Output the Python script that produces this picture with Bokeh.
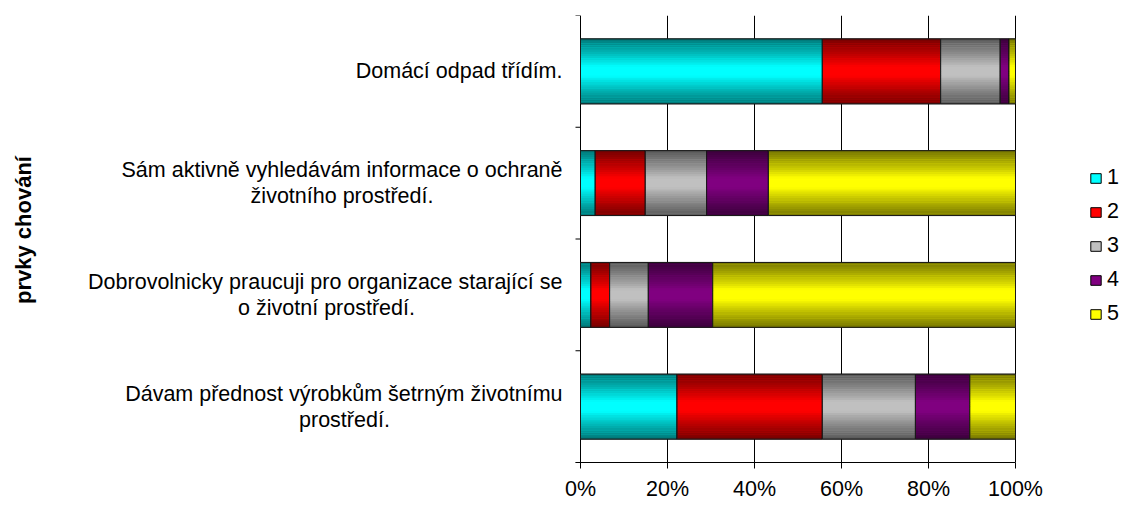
import math
from bokeh.plotting import figure
from bokeh.models import (ColumnDataSource, Range1d, FixedTicker,
                          NumeralTickFormatter, Legend, LegendItem)
from bokeh.core.properties import value
from bokeh.embed import file_html
from bokeh.resources import INLINE

# ---------------- data ----------------
categories = [
    "Domácí odpad třídím.",
    "Sám aktivně vyhledávám informace o ochraně\nživotního prostředí.",
    "Dobrovolnicky praucuji pro organizace starající se\no životní prostředí.",
    "Dávam přednost výrobkům šetrným životnímu\nprostředí.",
]
series_names = ["1", "2", "3", "4", "5"]
s1 = [55.6, 3.4, 2.4, 22.2]
s2 = [27.2, 11.5, 4.3, 33.4]
s3 = [13.7, 14.1, 8.9, 21.4]
s4 = [2.0, 14.2, 14.8, 12.5]
s5 = [1.5, 56.8, 69.6, 10.5]
colors = ["#00FFFF", "#FF0000", "#C0C0C0", "#800080", "#FFFF00"]
x_ticks = [0, 0.2, 0.4, 0.6, 0.8, 1.0]
y_title = "prvky chování"

# ---------------- layout constants ----------------
FONT = "Liberation Sans"
FS = 21.5
W = 1125
PLOT_LEFT = 580      # pixel where 0 % lies
PLOT_W = 435         # pixels from 0 % to 100 %
FRAME_H = 447
TOP = 15

series = [s1, s2, s3, s4, s5]
n = len(categories)
centers = [n - i - 0.5 for i in range(n)]
totals = [sum(s[i] for s in series) for i in range(n)]

# Arial / Liberation Sans advance widths (1/1000 em), used to centre wrapped lines
_W = {" ": 278, ".": 278, "a": 556, "b": 556, "c": 500, "d": 556, "e": 556,
      "f": 278, "g": 556, "h": 556, "i": 222, "j": 222, "k": 500, "l": 222,
      "m": 833, "n": 556, "o": 556, "p": 556, "q": 556, "r": 333, "s": 500,
      "t": 278, "u": 556, "v": 500, "w": 722, "x": 500, "y": 500, "z": 500,
      "S": 667, "D": 722}
_BASE = {"á": "a", "í": "i", "ř": "r", "ě": "e", "ž": "z", "š": "s",
         "ů": "u", "ý": "y", "é": "e"}


def text_w(t):
    return sum(_W.get(_BASE.get(ch, ch), 556) for ch in t) * FS / 1000.0


p = figure(frame_width=W, frame_height=FRAME_H,
           x_range=Range1d(-PLOT_LEFT / PLOT_W, (W - PLOT_LEFT) / PLOT_W),
           y_range=Range1d(0, n),
           output_backend="svg", toolbar_location=None,
           min_border_left=0, min_border_right=0,
           min_border_top=TOP, min_border_bottom=0)
p.outline_line_color = None
p.yaxis.visible = False
p.ygrid.visible = False

BAR_H = 0.58
N_STRIPS = 30


def shade(hexcol, f):
    r = int(hexcol[1:3], 16); g = int(hexcol[3:5], 16); b = int(hexcol[5:7], 16)
    return "#%02x%02x%02x" % (int(r * f), int(g * f), int(b * f))


def factor(t):
    d = abs(t - 0.5) * 2
    if d < 0.15:
        return 1.0
    return 1.0 - 0.53 * ((d - 0.15) / 0.85) ** 0.9


cum = [0.0] * n
items = []
for j, s in enumerate(series):
    left = [cum[i] for i in range(n)]
    right = [cum[i] + s[i] / totals[i] for i in range(n)]
    cum = right
    base = p.hbar(y=centers, left=left, right=right, height=BAR_H,
                  fill_color=colors[j], line_color="#000000", line_width=1)
    ys, ls, rs, cs = [], [], [], []
    sh = BAR_H / N_STRIPS
    for i in range(n):
        for k in range(N_STRIPS):
            t = (k + 0.5) / N_STRIPS
            ys.append(centers[i] + BAR_H / 2 - (k + 0.5) * sh)
            ls.append(left[i]); rs.append(right[i])
            cs.append(shade(colors[j], factor(t)))
    src = ColumnDataSource(dict(y=ys, left=ls, right=rs, color=cs))
    p.hbar(source=src, y="y", left="left", right="right", height=sh * 1.15,
           fill_color="color", line_color=None)
    p.hbar(y=centers, left=left, right=right, height=BAR_H,
           fill_color=None, line_color="#1a1a1a", line_width=1)
    items.append(LegendItem(label=series_names[j], renderers=[base]))

# ---------------- category labels ----------------
STANDOFF = 18
LINE = 26
first = dict(x=[], y=[], text=[], yoff=[])
other = dict(x=[], y=[], text=[], xoff=[], yoff=[])
for i, cat in enumerate(categories):
    lines = cat.split("\n")
    w1 = text_w(lines[0])
    nl = len(lines)
    for k, ln in enumerate(lines):
        yoff = (k - (nl - 1) / 2.0) * LINE
        if k == 0:
            first["x"].append(0); first["y"].append(centers[i])
            first["text"].append(ln); first["yoff"].append(yoff)
        else:
            other["x"].append(0); other["y"].append(centers[i])
            other["text"].append(ln); other["yoff"].append(yoff)
            other["xoff"].append(-(STANDOFF + w1 / 2.0))
p.text(source=ColumnDataSource(first), x="x", y="y", text="text",
       x_offset=-STANDOFF, y_offset="yoff", text_align="right",
       text_baseline="middle", text_font=value(FONT),
       text_font_size="%gpx" % FS, text_color="black")
p.text(source=ColumnDataSource(other), x="x", y="y", text="text",
       x_offset="xoff", y_offset="yoff", text_align="center",
       text_baseline="middle", text_font=value(FONT),
       text_font_size="%gpx" % FS, text_color="black")

# axis title (rotated)
p.text(x=[0], y=[n / 2.0], text=[y_title], x_offset=-(PLOT_LEFT - 23),
       y_offset=-9, angle=math.pi / 2, text_align="center",
       text_baseline="middle", text_font=value(FONT), text_font_size="22px",
       text_font_style="bold", text_color="black")

# category boundary ticks on the value axis
p.ray(x=[0] * (n + 1), y=list(range(n + 1)), length=5, length_units="screen",
      angle=math.pi, line_color="black", line_width=1)

# ---------------- x axis ----------------
xax = p.xaxis[0]
xax.bounds = (-5 / PLOT_W, 1.0)
xax.ticker = FixedTicker(ticks=x_ticks)
xax.formatter = NumeralTickFormatter(format="0%")
xax.major_tick_out = 6
xax.major_tick_in = 0
xax.minor_tick_line_color = None
xax.axis_line_color = "black"
xax.major_label_standoff = 8
xax.major_label_text_font = FONT
xax.major_label_text_font_size = "%gpx" % FS
xax.major_label_text_color = "black"

p.xgrid.ticker = FixedTicker(ticks=x_ticks)
p.xgrid.grid_line_color = "black"
p.xgrid.grid_line_alpha = 1.0
p.xgrid.grid_line_width = 1

# ---------------- legend ----------------
legend = Legend(items=items, location=(1089, 136),
                label_text_font=FONT, label_text_font_size="%gpx" % FS,
                label_text_color="black",
                glyph_width=13, glyph_height=12, spacing=9, label_height=24,
                label_standoff=5, border_line_color=None,
                background_fill_alpha=0, padding=0, margin=0)
p.add_layout(legend)

open("out.html", "w").write(file_html(p, INLINE))
